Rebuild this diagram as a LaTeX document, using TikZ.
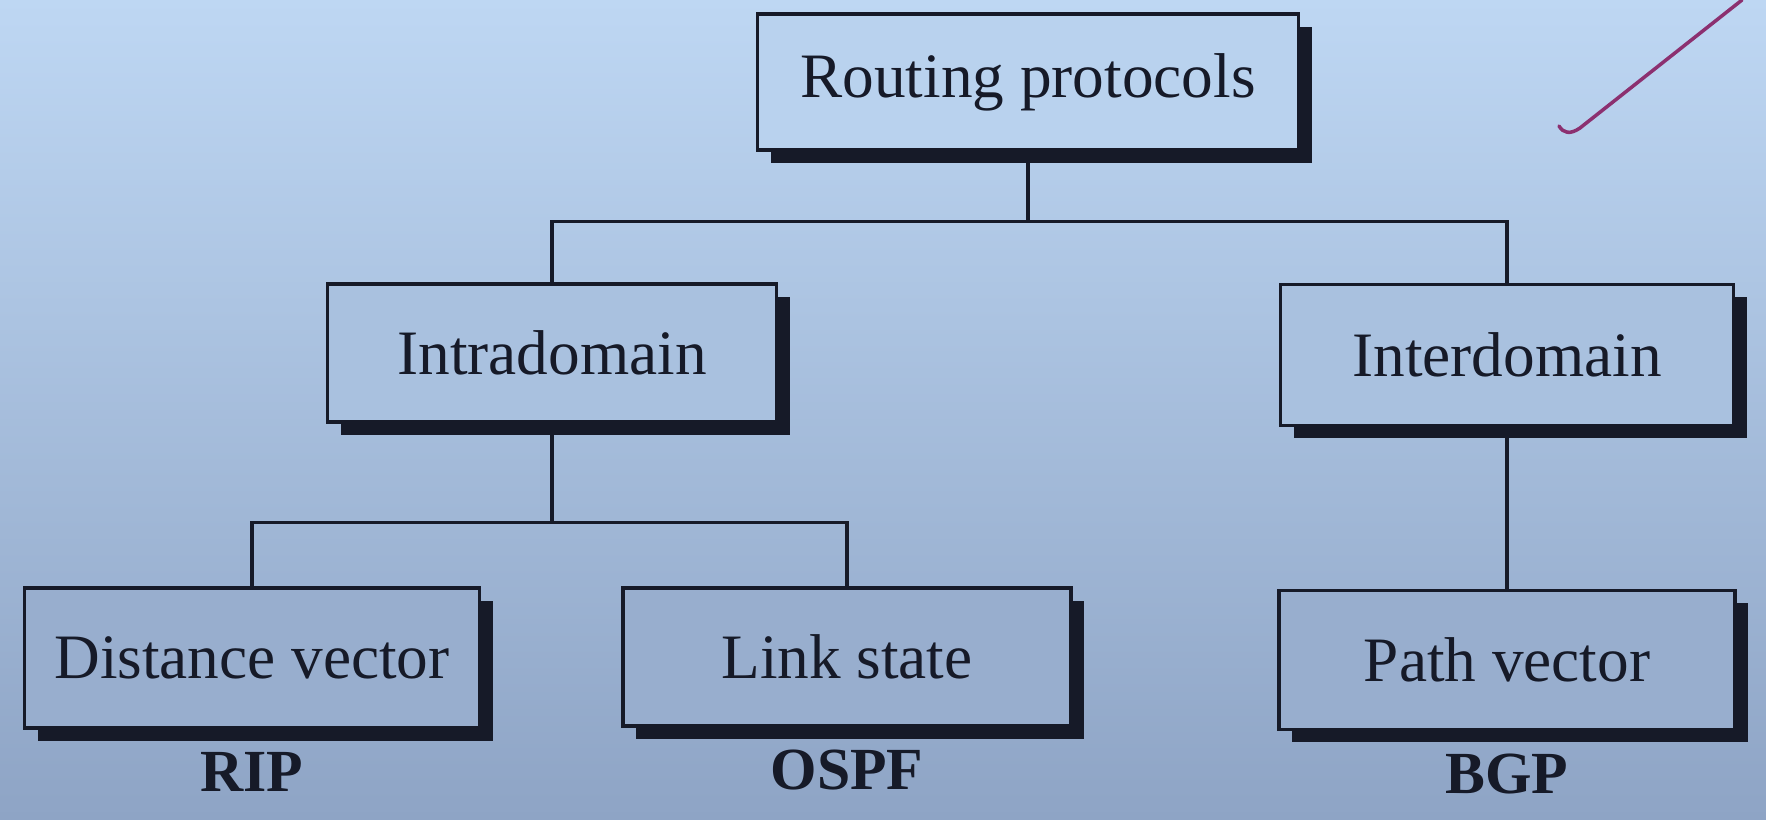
\documentclass[tikz,border=0pt]{standalone}
\usepackage{fontspec}
\setmainfont{Liberation Serif}
\usetikzlibrary{positioning,shadows,calc}
\definecolor{bgtop}{RGB}{190,215,243}
\definecolor{bgbottom}{RGB}{142,164,197}
\definecolor{ink}{RGB}{22,26,40}
\definecolor{penmark}{RGB}{140,48,112}
\tikzset{
  link/.style={draw=ink, line width=.9pt},
  box/.style={draw=ink, line width=.9pt, fill=#1, minimum width=45mm, minimum height=13.8mm, inner sep=0pt,
    text=ink, font=\fontsize{18}{22}\selectfont,
    drop shadow={shadow xshift=1.3mm, shadow yshift=-1.3mm, fill=ink, opacity=1}},
  proto/.style={text=ink, font=\fontsize{17}{20}\selectfont\bfseries}
}
\begin{document}
\begin{tikzpicture}[x=1cm,y=1cm]
  % Background page.
  \useasboundingbox (0,0) rectangle (17.66,8.2);
  \shade[top color=bgtop, bottom color=bgbottom] (0,0) rectangle (17.66,8.2);

  % Top level.
  \node[box=bgtop!90!bgbottom, minimum width=54.1mm, minimum height=13.6mm] (routing) at (10.28,7.38) {Routing protocols};

  % Second level.
  \node[box=bgtop!57!bgbottom, minimum width=44.9mm] (intra) at (5.52,4.67) {Intradomain};
  \node[box=bgtop!57!bgbottom, minimum width=45.3mm, minimum height=14.1mm] (inter) at (15.07,4.65) {Interdomain};

  % Third level and protocol names.
  \node[box=bgtop!20!bgbottom, minimum width=45.5mm, minimum height=14mm] (distvec) at (2.52,1.62) {Distance vector};
  \node[box=bgtop!20!bgbottom, minimum width=44.8mm] (linkst) at (8.47,1.63) {Link state};
  \node[box=bgtop!20!bgbottom, minimum width=45.6mm, minimum height=13.9mm] (pathvec) at (15.07,1.60) {Path vector};
  \node[proto, below=0.1 of distvec] (rip) {RIP};
  \node[proto, below=0.1 of linkst] (ospf) {OSPF};
  \node[proto, below=0.1 of pathvec] (bgp) {BGP};

  % Tree connectors.
  \coordinate (split1) at ($(routing.south)+(0,-0.70)$);
  \coordinate (split2) at ($(intra.south)+(0,-0.99)$);
  \draw[link] (routing.south) -- (split1);
  \draw[link] (intra.north) |- (split1) -| (inter.north);
  \draw[link] (intra.south) -- (split2);
  \draw[link] (distvec.north) |- (split2) -| (linkst.north);
  \draw[link] (inter.south) -- (pathvec.north);

  % Pen mark in the corner.
  \draw[penmark, line width=1pt, line cap=round]
    (15.59,6.94) .. controls (15.63,6.87) and (15.70,6.85) .. (15.80,6.92) -- (17.42,8.2);
\end{tikzpicture}
\end{document}
